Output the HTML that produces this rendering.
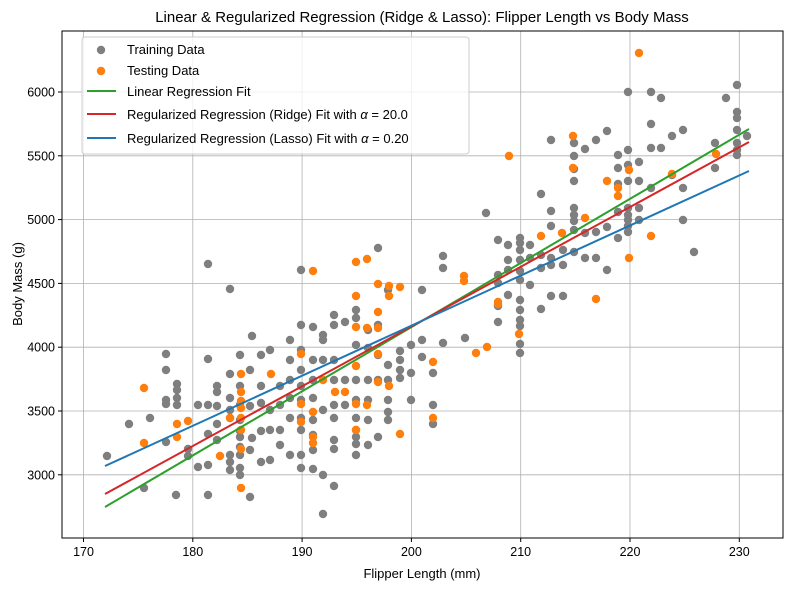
<!DOCTYPE html><html><head><meta charset="utf-8"><style>body{margin:0;background:#fff}svg{display:block;font-family:"Liberation Sans","DejaVu Sans",sans-serif}</style></head><body>
<svg id="s" width="790" height="590" xmlns="http://www.w3.org/2000/svg">
<rect width="790" height="590" fill="#fff"/>
<g id="grid" stroke="#b0b0b0" stroke-width="0.8"></g>
<g id="pts"></g>
<line x1="105" y1="507" x2="749" y2="129" stroke="#2ca02c" stroke-width="2"/>
<line x1="105" y1="494" x2="749" y2="142" stroke="#d62728" stroke-width="2"/>
<line x1="105" y1="466" x2="749" y2="171" stroke="#1f77b4" stroke-width="2"/>
<rect x="62" y="31" width="721" height="507" fill="none" stroke="#000" stroke-width="1"/>
<g id="ticks" font-size="12.5" fill="#000"></g>
<text x="422" y="22" font-size="15" text-anchor="middle">Linear &amp; Regularized Regression (Ridge &amp; Lasso): Flipper Length vs Body Mass</text>
<text x="422" y="578" font-size="13" text-anchor="middle">Flipper Length (mm)</text>
<text x="22" y="284" font-size="13" text-anchor="middle" transform="rotate(-90 22 284)">Body Mass (g)</text>
<rect x="82" y="37" width="387" height="117" rx="3" fill="#fff" fill-opacity="0.8" stroke="#ccc"/>
<circle cx="101" cy="50" r="4.2" fill="#7f7f7f"/><circle cx="101" cy="71" r="4.2" fill="#ff7f0e"/>
<line x1="87" y1="91" x2="116" y2="91" stroke="#2ca02c" stroke-width="2"/>
<line x1="87" y1="114" x2="116" y2="114" stroke="#d62728" stroke-width="2"/>
<line x1="87" y1="138" x2="116" y2="138" stroke="#1f77b4" stroke-width="2"/>
<g font-size="13"><text x="127" y="54">Training Data</text><text x="127" y="75">Testing Data</text><text x="127" y="96">Linear Regression Fit</text>
<text x="127" y="119">Regularized Regression (Ridge) Fit with <tspan font-style="italic">α</tspan> = 20.0</text>
<text x="127" y="143">Regularized Regression (Lasso) Fit with <tspan font-style="italic">α</tspan> = 0.20</text></g>
</svg>
<script>
var NS="http://www.w3.org/2000/svg";
function el(p,t,a,txt){var e=document.createElementNS(NS,t);for(var k in a)e.setAttribute(k,a[k]);if(txt)e.textContent=txt;p.appendChild(e);return e;}
var g=document.getElementById('grid'),tk=document.getElementById('ticks'),P=document.getElementById('pts');
for(var v=170;v<=230;v+=10){var x=83.5+(v-170)*10.93;el(g,'line',{x1:x,y1:31,x2:x,y2:538});el(tk,'line',{x1:x,y1:538,x2:x,y2:542,stroke:'#000'});el(tk,'text',{x:x,y:556,'text-anchor':'middle'},v);}
for(var v=3000;v<=6000;v+=500){var y=92+(6000-v)*0.1276;el(g,'line',{x1:62,y1:y,x2:783,y2:y});el(tk,'line',{x1:58,y1:y,x2:62,y2:y,stroke:'#000'});el(tk,'text',{x:55,y:y+4.5,'text-anchor':'end'},v);}
var gray=[[107,456],[129,424],[150,418],[144,488],[166,442],[166,354],[166,370],[166,400],[166,404],[177,384],[177,390],[177,398],[177,405],[176,495],[188,449],[188,456],[198,405],[198,467],[208,405],[208,434],[208,465],[208,495],[208,264],[208,359],[217,440],[217,406],[217,392],[217,386],[217,424],[230,398],[230,462],[230,470],[230,455],[230,289],[230,374],[230,418],[230,410],[240,405],[240,420],[240,431],[240,437],[240,447],[240,455],[240,468],[240,475],[240,386],[240,355],[250,370],[250,406],[250,450],[250,497],[252,336],[252,438],[261,386],[261,403],[261,431],[261,462],[261,355],[270,430],[270,460],[270,410],[270,350],[280,386],[280,405],[280,430],[280,445],[290,455],[290,418],[290,398],[290,380],[290,360],[290,340],[301,270],[301,325],[301,350],[301,370],[301,386],[301,400],[301,418],[301,430],[301,455],[301,468],[313,327],[313,360],[313,380],[313,398],[313,420],[313,435],[313,450],[313,469],[323,335],[323,340],[323,360],[323,410],[323,475],[323,514],[334,315],[334,325],[334,360],[334,380],[334,405],[334,418],[334,440],[334,449],[334,486],[345,322],[345,380],[345,405],[356,310],[356,318],[356,345],[356,380],[356,400],[356,418],[356,430],[356,437],[356,444],[356,455],[368,330],[368,348],[368,380],[368,400],[368,420],[368,445],[378,248],[378,325],[378,355],[378,380],[378,437],[388,290],[388,365],[388,380],[388,400],[388,412],[388,420],[400,370],[400,378],[400,360],[400,351],[411,345],[411,373],[411,400],[422,290],[422,340],[422,357],[433,373],[433,405],[433,424],[443,256],[443,268],[443,343],[465,338],[486,213],[498,240],[498,306],[498,322],[498,275],[498,283],[508,245],[508,260],[508,295],[508,270],[520,238],[520,243],[520,250],[520,260],[520,271],[520,280],[520,300],[520,310],[520,320],[520,326],[520,344],[520,353],[530,245],[530,258],[530,285],[541,194],[541,255],[541,268],[541,309],[551,140],[551,211],[551,226],[551,258],[551,265],[551,296],[563,296],[563,265],[563,250],[574,143],[574,156],[574,169],[574,181],[574,208],[574,215],[574,221],[574,230],[574,252],[585,149],[585,233],[585,258],[596,140],[596,232],[596,258],[607,131],[607,227],[607,270],[618,155],[618,168],[618,184],[618,212],[618,238],[628,92],[628,150],[628,165],[628,181],[628,208],[628,215],[628,220],[628,226],[628,232],[639,162],[639,181],[639,208],[639,220],[651,92],[651,124],[651,148],[651,188],[661,98],[661,148],[672,136],[672,175],[683,130],[683,188],[683,220],[694,252],[715,143],[715,168],[726,98],[737,85],[737,112],[737,118],[737,130],[737,143],[737,150],[737,155],[747,136]];
var orng=[[144,388],[144,443],[177,424],[177,437],[188,421],[220,456],[230,418],[241,374],[241,392],[241,401],[241,408],[241,418],[241,430],[241,449],[241,488],[271,374],[301,354],[301,404],[301,422],[313,271],[313,412],[313,443],[313,437],[323,380],[335,392],[345,392],[356,262],[356,296],[356,327],[356,366],[356,404],[356,430],[367,259],[367,328],[367,405],[378,284],[378,312],[378,328],[378,354],[378,382],[389,286],[389,296],[389,386],[400,287],[400,434],[433,362],[433,418],[464,276],[464,281],[476,353],[487,347],[509,156],[498,302],[498,304],[519,334],[541,236],[562,233],[573,136],[573,168],[585,218],[596,299],[607,181],[618,188],[618,196],[629,170],[629,258],[639,53],[651,236],[672,174],[716,154]];
gray.forEach(function(p){el(P,'circle',{cx:p[0],cy:p[1],r:4.2,fill:'#7f7f7f'});});
orng.forEach(function(p){el(P,'circle',{cx:p[0],cy:p[1],r:4.2,fill:'#ff7f0e'});});
</script>
</body></html>
